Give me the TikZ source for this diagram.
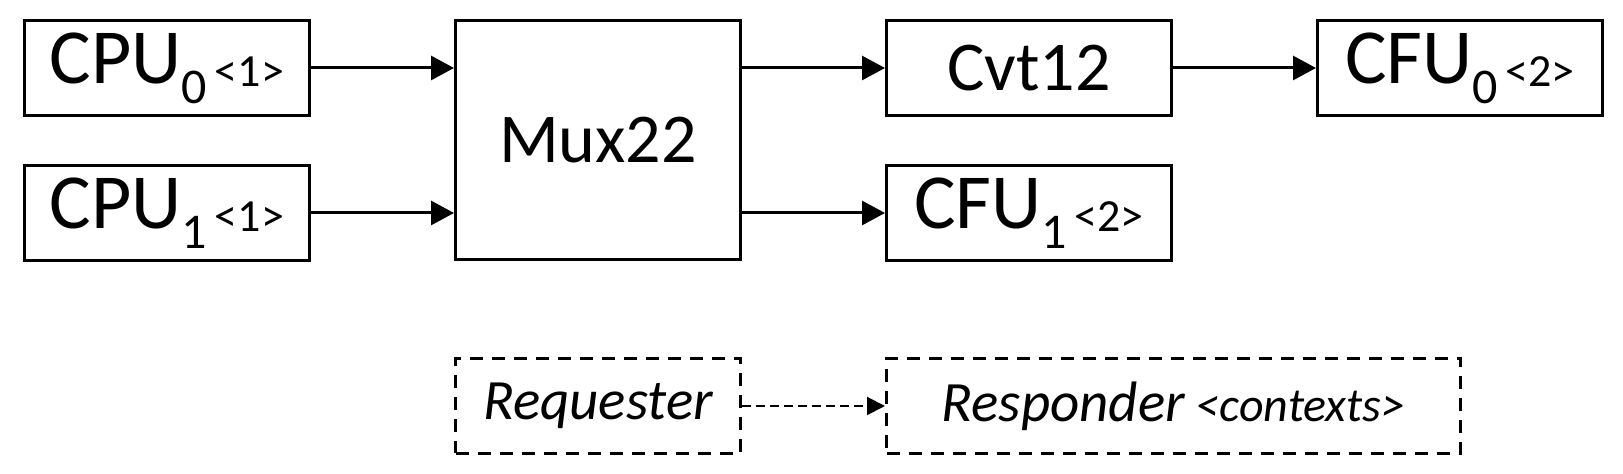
\documentclass[tikz,border=0pt]{standalone}
\usepackage{fontspec}
\setmainfont{Carlito}
\usetikzlibrary{positioning,arrows.meta}

% lowered index and small context count
\newcommand{\idx}[1]{\raisebox{-10pt}{\fontsize{25}{25}\selectfont #1}}
\newcommand{\ctx}[1]{\raisebox{-1.5pt}{\fontsize{23}{23}\selectfont\,<#1>}}

\begin{document}
\begin{tikzpicture}[
    blk/.style={draw, line width=1.5pt, minimum width=142.5pt, minimum height=47.5pt,
                inner sep=0pt, font=\fontsize{35}{35}\selectfont}, % solid boxes
    unit/.style={blk, font=\fontsize{39}{39}\selectfont}, % CPU and CFU boxes
    key/.style={blk, dashed, dash pattern=on 6.5pt off 4.5pt,
                font=\fontsize{28.5}{28.5}\selectfont\itshape}, % legend boxes
    arr/.style={line width=1.5pt, -{Triangle[length=11.5pt,width=12pt]}}, % links
    keyarr/.style={line width=1pt, dash pattern=on 4.3pt off 2.7pt,
                -{Triangle[length=9pt,width=9pt]}} % legend link
]

    % Fixed page size
    \useasboundingbox (0,0) rectangle (811.5pt,-237pt);

    % Requesters
    \node[unit, anchor=north west] (cpu0) at (11.5pt,-9.5pt) {CPU\idx{0}\ctx{1}};
    \node[unit, below=23.5pt of cpu0] (cpu1) {CPU\idx{1}\ctx{1}};

    % Mux and converter
    \node[blk, minimum height=119.5pt, right=71.5pt of cpu0.north east, anchor=north west] (mux) {Mux22};
    \node[blk, right=71.5pt of mux.north east, anchor=north west] (cvt) {Cvt12};

    % Responders
    \node[unit, right=71.5pt of cvt] (cfu0) {CFU\idx{0}\ctx{2}};
    \node[unit, below=23.5pt of cvt] (cfu1) {CFU\idx{1}\ctx{2}};

    % Connections
    \draw[arr] (cpu0) -- (cpu0 -| mux.west);
    \draw[arr] (cpu1) -- (cpu1 -| mux.west);
    \draw[arr] (mux.east |- cvt) -- (cvt);
    \draw[arr] (mux.east |- cfu1) -- (cfu1);
    \draw[arr] (cvt) -- (cfu0);

    % Legend
    \node[key, below=48pt of mux] (req) {Requester};
    \node[key, minimum width=287pt, right=71.5pt of req] (rsp) {Responder{\fontsize{24}{24}\selectfont\ <contexts>}};
    \draw[keyarr] (req) -- (rsp);

\end{tikzpicture}
\end{document}
